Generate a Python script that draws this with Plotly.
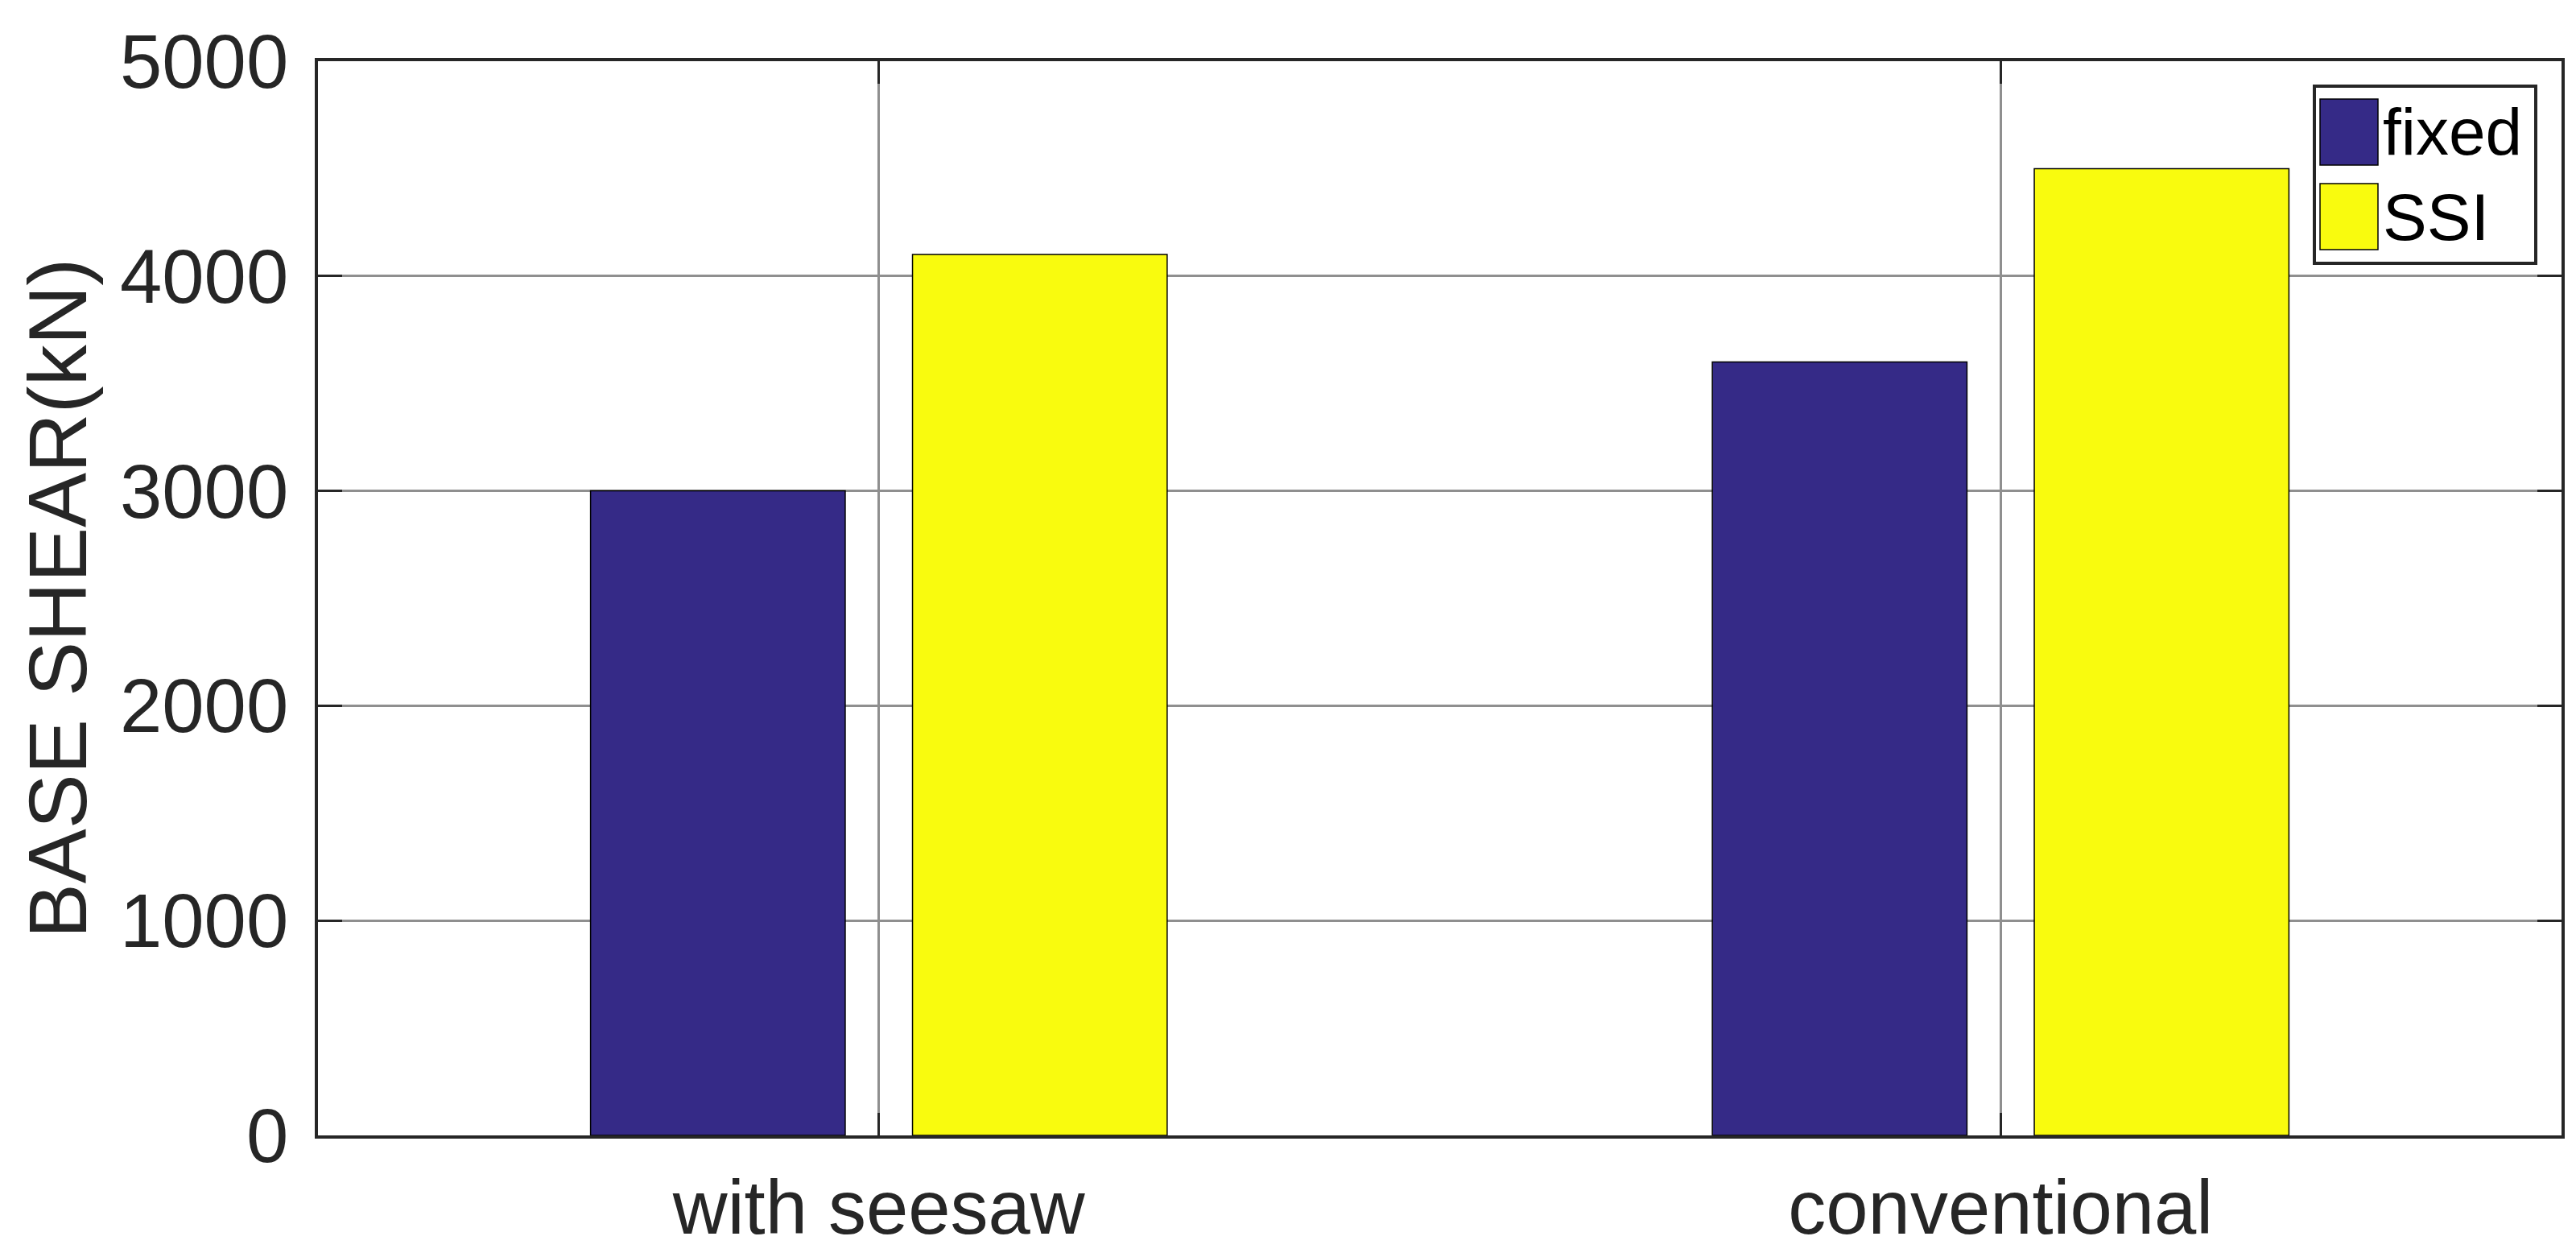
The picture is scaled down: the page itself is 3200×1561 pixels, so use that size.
import plotly.graph_objects as go

categories = ["with seesaw", "conventional"]
fixed_vals = [3000, 3600]
ssi_vals = [4100, 4500]
series_names = ["fixed", "SSI"]
series_colors = ["#352A87", "#F9FB0E"]
y_ticks = [0, 1000, 2000, 3000, 4000, 5000]

W, H = 3200, 1561
L, R, T, B = 387, 26, 68, 159
PW, PH = W - L - R, H - T - B

FONT = "Liberation Sans, Arial, Helvetica, sans-serif"
AX = "#262626"

fig = go.Figure()
for name, vals, col in zip(series_names, [fixed_vals, ssi_vals], series_colors):
    fig.add_trace(go.Bar(x=categories, y=vals, name=name, marker=dict(color=col, line=dict(color="#000000", width=1.5)),
                         showlegend=False))

def px(xp):
    return (xp - L) / PW

def py(yp):
    return (H - B - yp) / PH

shapes = []
annotations = []
# legend box
shapes.append(dict(type="rect", xref="paper", yref="paper", x0=px(2867), x1=px(3142), y0=py(319), y1=py(99),
                   line=dict(color=AX, width=4), fillcolor="white", layer="above"))
sw_tops = [115, 220]
for i, (name, col) in enumerate(zip(series_names, series_colors)):
    t = sw_tops[i]
    shapes.append(dict(type="rect", xref="paper", yref="paper", x0=px(2874), x1=px(2946), y0=py(t + 82), y1=py(t),
                       line=dict(color="#000000", width=1.5), fillcolor=col, layer="above"))
    annotations.append(dict(xref="paper", yref="paper", x=px(2950), y=py(t + 41), text=name, showarrow=False,
                            xanchor="left", yanchor="middle", font=dict(family=FONT, size=82, color="#000000")))

fig.update_layout(
    width=W, height=H,
    margin=dict(l=L, r=R, t=T, b=B, pad=0),
    paper_bgcolor="white", plot_bgcolor="white",
    barmode="group", bargap=0.426, bargroupgap=0.209,
    font=dict(family=FONT, color=AX),
    shapes=shapes, annotations=annotations,
    showlegend=False,
)
fig.update_xaxes(
    range=[-0.5, 1.5], showline=True, linecolor=AX, linewidth=4, mirror="ticks",
    ticks="inside", ticklen=28, tickwidth=3, tickcolor=AX,
    showgrid=True, gridcolor="#8F8F8F", gridwidth=3,
    tickfont=dict(family=FONT, size=94, color=AX), ticklabelstandoff=5,
)
fig.update_yaxes(
    range=[0, 5000], tickvals=y_ticks, showline=True, linecolor=AX, linewidth=4, mirror="ticks",
    ticks="inside", ticklen=30, tickwidth=3, tickcolor=AX,
    showgrid=True, gridcolor="#8F8F8F", gridwidth=3, zeroline=False,
    tickfont=dict(family=FONT, size=94, color=AX), ticklabelstandoff=14,
    title=dict(text="BASE SHEAR(kN)", font=dict(family=FONT, size=102, color=AX), standoff=8),
)
fig.write_html("out.html")
